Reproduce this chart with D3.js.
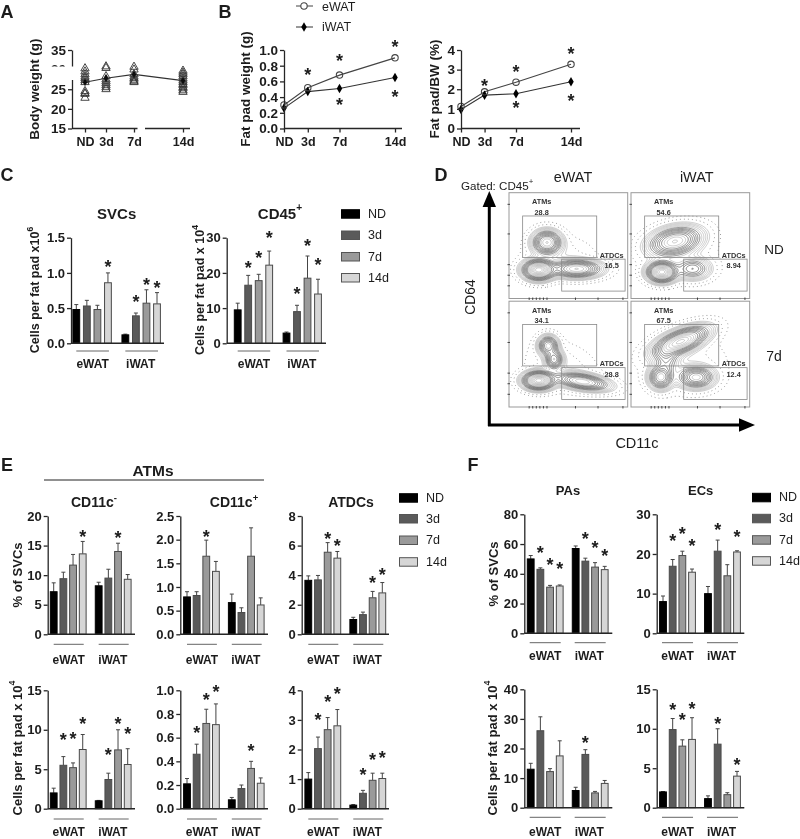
<!DOCTYPE html>
<html><head><meta charset="utf-8">
<script src="https://cdn.jsdelivr.net/npm/d3@7/dist/d3.min.js"></script>
<style>
html,body{margin:0;padding:0;background:#fff}
svg{display:block}
text{font-family:"Liberation Sans",Arial,sans-serif;fill:#1c1c1c}
.b{font-weight:700}
</style></head><body>
<svg id="c" width="800" height="839"></svg>
<script>
// ---------- data ----------
const timeLabels=["ND","3d","7d","14d"];
const days=[0,3,7,14];
const groups=["eWAT","iWAT"];
const barColors=["#000000","#5a5a5a","#9a9a9a","#d6d6d6"];

// A
const bodyMean=[26.8,27.8,28.8,27.2];
const bodyND=[30.3,29.5,28.8,28.2,27.8,27.3,26.8,24.5,24,23.8,22.8];
const body3d=[30.8,30.4,28.3,27.5,27,26.5,26,25.5,25];
const body7d=[30.7,30,28.8,28.2,27.8,27.4,27,26.8];
const body14d=[29.7,29.2,28.8,28.3,27.7,27.2,26.8,26.3,26,25.5,25.2,24.7,24.3];
// B
const padE=[0.3,0.52,0.68,0.9], padI=[0.26,0.47,0.51,0.65];
const padStars=[[3,0.73],[7,0.9],[14,1.08],[7,0.35],[14,0.45]];
const bwE=[1.12,1.87,2.36,3.27], bwI=[0.97,1.7,1.77,2.38];
const bwStars=[[3,2.36],[7,3.04],[14,3.95],[7,1.21],[14,1.6]];
// C
const svcV=[0.48,0.53,0.48,0.86,0.12,0.39,0.57,0.56];
const svcE=[0.55,0.61,0.54,1.0,0.13,0.43,0.76,0.72];
const svcS=[null,null,null,1.13,null,0.64,0.875,0.84];
const cd45V=[9.5,16.5,17.8,22.2,2.9,9,18.5,14];
const cd45E=[11.4,19.3,19.6,26.2,3.2,10.8,24.8,18.2];
const cd45S=[null,22.5,25.1,30.8,null,14.9,28.6,23.2];
// E top
const negPctV=[7.2,9.4,11.7,13.6,8.2,9.5,14,9.3];
const negPctE=[8.7,10.5,13.5,15.7,8.8,11,15.4,10.1];
const negPctS=[null,null,null,17,null,null,16.8,null];
const posPctV=[0.79,0.82,1.65,1.33,0.67,0.46,1.65,0.62];
const posPctE=[0.9,0.9,1.99,1.54,0.85,0.56,2.25,0.77];
const posPctS=[null,null,2.12,null,null,null,null,null];
const dcPctV=[3.65,3.68,5.55,5.15,1.0,1.33,2.47,2.8];
const dcPctE=[3.95,3.98,6.2,5.6,1.15,1.5,2.9,3.5];
const dcPctS=[null,null,6.65,6.24,null,null,3.72,4.23];
// E bottom
const negNumV=[2,5.5,5.2,7.5,1,3.7,7.45,5.6];
const negNumE=[2.6,6.6,5.8,9.4,1.05,4.5,10,7.6];
const negNumS=[null,9.1,9.3,11.2,null,7.2,11.2,9.9];
const posNumV=[0.21,0.46,0.72,0.71,0.075,0.17,0.34,0.215];
const posNumE=[0.255,0.545,0.84,0.885,0.095,0.2,0.4,0.26];
const posNumS=[null,0.67,0.95,1.017,null,null,0.52,null];
const dcNumV=[1,2.03,2.67,2.8,0.12,0.52,0.96,1.02];
const dcNumE=[1.22,2.42,3.08,3.35,0.14,0.62,1.2,1.2];
const dcNumS=[null,3.13,3.73,4.01,null,1.26,1.75,1.84];
// F
const paPctV=[50,43,31,31.8,57,48.5,44.5,42.8];
const paPctE=[52.3,44,32.2,32.5,58.7,50.5,47.5,45];
const paPctS=[null,56.5,48.6,45.5,null,65.6,59.6,54.4];
const ecPctV=[8,16.9,19.6,15.4,10,20.7,14.5,20.5];
const ecPctE=[9.4,18.6,20.7,16.2,11.8,23.5,17.3,20.8];
const ecPctS=[null,24.2,25.8,22.8,null,26.8,null,25.2];
const paNumV=[13,26,12.2,17.5,5.8,18,5,8.2];
const paNumE=[15,30.7,13.2,22.6,6.9,19.6,5.5,9.2];
const paNumS=[null,null,null,null,null,23.1,null,null];
const ecNumV=[2,9.9,7.8,8.65,1.15,8.05,1.65,4];
const ecNumE=[2.05,11.3,8.6,11.4,1.5,10,1.9,4.6];
const ecNumS=[null,12.85,11.5,13,null,11.1,null,5.8];
// D : population peaks on the unit plot [cx, cy, sx, sy, rotation deg, weight]
const flowNDe=[[.32,.47,.065,.06,0,.62],[.25,.73,.07,.05,0,1],[.57,.72,.11,.045,0,.62],[.42,.6,.16,.1,0,.022]];
const flowNDi=[[.37,.46,.12,.07,-15,.62],[.26,.75,.065,.05,0,1],[.52,.72,.08,.055,0,.28],[.42,.6,.16,.12,0,.022]];
const flow7e=[[.33,.42,.045,.05,0,.5],[.38,.55,.04,.05,0,.45],[.25,.75,.07,.045,0,1],[.62,.76,.12,.04,10,.6],[.45,.62,.17,.12,25,.022]];
const flow7i=[[.42,.38,.13,.055,-25,.8],[.25,.72,.055,.06,0,.5],[.55,.72,.08,.055,0,.5],[.3,.55,.06,.08,0,.2],[.45,.6,.19,.15,0,.022]];
const flowPct=[["28.8","16.5"],["54.6","8.94"],["34.1","28.8"],["67.5","12.4"]];

// ---------- helpers ----------
const svg=d3.select("#c");
svg.append("defs").append("filter").attr("id","soft").attr("filterUnits","userSpaceOnUse")
  .attr("x",0).attr("y",0).attr("width",800).attr("height",839)
  .append("feGaussianBlur").attr("stdDeviation",0.35);
svg.append("rect").attr("width",800).attr("height",839).attr("fill","#fff");
const root=svg.append("g").attr("filter","url(#soft)");
const DARK="#262626";

function label(t,x,y,size,opts={}){
  const e=root.append("text").attr("x",x).attr("y",y).attr("font-size",size)
    .attr("text-anchor",opts.anchor||"middle").attr("dominant-baseline","central")
    .classed("b",!!opts.bold);
  if(opts.rot) e.attr("transform",`rotate(${opts.rot} ${x} ${y})`);
  if(opts.sup){
    e.append("tspan").text(t);
    e.append("tspan").text(opts.sup).attr("font-size",size*0.68).attr("dy",-size*0.38).attr("dominant-baseline","auto");
  } else e.text(t);
  return e;
}
function star(g,x,y){
  g.append("text").attr("x",x).attr("y",y+9.5).attr("text-anchor","middle")
    .attr("font-size",18).attr("font-weight",700).text("*");
}
function yAxis(g,x,y,ticks,fmt,size=13){
  const a=g.append("g").attr("transform",`translate(${x},0)`)
    .call(d3.axisLeft(y).tickValues(ticks).tickFormat(d3.format(fmt)).tickSize(4).tickSizeOuter(0).tickPadding(2));
  a.selectAll("path,line").attr("stroke",DARK).attr("stroke-width",1.3);
  a.selectAll("text").attr("font-size",size).attr("font-weight",700).attr("font-family",null).style("fill","#1c1c1c");
}
function legend(x,ys,tx,size){
  timeLabels.forEach((t,i)=>{
    root.append("rect").attr("x",x).attr("y",ys[i]-4).attr("width",18).attr("height",8.5)
      .attr("fill",barColors[i]).attr("stroke",i?"#555":"#000").attr("stroke-width",1);
    label(t,tx,ys[i],size,{anchor:"start"});
  });
}
const slots=[0,1,2,3,4.65,5.65,6.65,7.65];
function bars(cfg){
  const g=root.append("g");
  const y=d3.scaleLinear().domain([0,cfg.max]).range([cfg.bottom,cfg.top]);
  const x=d3.scaleLinear().domain([0,7.65]).range([cfg.first,cfg.last]);
  const w=cfg.w||6.8;
  cfg.V.forEach((v,i)=>{
    const cx=x(slots[i]);
    g.append("line").attr("x1",cx).attr("x2",cx).attr("y1",y(v)).attr("y2",y(cfg.E[i])).attr("stroke","#444").attr("stroke-width",1);
    g.append("line").attr("x1",cx-2).attr("x2",cx+2).attr("y1",y(cfg.E[i])).attr("y2",y(cfg.E[i])).attr("stroke","#444").attr("stroke-width",1);
    g.append("rect").attr("x",cx-w/2).attr("y",y(v)).attr("width",w).attr("height",y(0)-y(v))
      .attr("fill",barColors[i%4]).attr("stroke",i%4?"#4a4a4a":"#000").attr("stroke-width",1);
    if(cfg.S[i]!=null) star(g,cx,y(cfg.S[i]));
  });
  yAxis(g,cfg.axis,y,cfg.ticks,cfg.fmt);
  g.append("line").attr("x1",cfg.axis).attr("x2",cfg.end).attr("y1",y(0)).attr("y2",y(0)).attr("stroke",DARK).attr("stroke-width",1.4);
  [[0,3],[4.65,7.65]].forEach((s,k)=>{
    const a=x(s[0])-(cfg.lx0||0), b=x(s[1])+(cfg.lx1||1);
    g.append("line").attr("x1",a).attr("x2",b).attr("y1",cfg.lineY).attr("y2",cfg.lineY).attr("stroke","#666").attr("stroke-width",1);
    label(groups[k],(a+b)/2-(k?1:0),cfg.labY,12,{bold:true});
  });
}
function lines(cfg){
  const g=root.append("g");
  const y=d3.scaleLinear().domain(cfg.dom).range([128.5,50]);
  const x=d3.scaleLinear().domain([0,14]).range([cfg.x0,cfg.x14]);
  const ln=d3.line().x((d,i)=>x(days[i])).y(d=>y(d));
  g.append("path").attr("d",ln(cfg.e)).attr("fill","none").attr("stroke","#444").attr("stroke-width",1.1);
  g.append("path").attr("d",ln(cfg.i)).attr("fill","none").attr("stroke","#333").attr("stroke-width",1.1);
  cfg.i.forEach((v,k)=>g.append("path").attr("transform",`translate(${x(days[k])},${y(v)})`)
    .attr("d",d3.symbol(d3.symbolDiamond,26)()).attr("fill","#000"));
  cfg.e.forEach((v,k)=>g.append("circle").attr("cx",x(days[k])).attr("cy",y(v)).attr("r",3.2)
    .attr("fill","none").attr("stroke","#444").attr("stroke-width",1.1));
  cfg.stars.forEach(s=>star(g,x(s[0]),y(s[1])));
  yAxis(g,cfg.x0,y,cfg.ticks,cfg.fmt,13.5);
  const xa=g.append("g").attr("transform","translate(0,128.5)")
    .call(d3.axisBottom(x).tickValues(days).tickFormat((d,i)=>timeLabels[i]).tickSize(4).tickSizeOuter(0).tickPadding(5));
  xa.select("path").attr("d",`M${cfg.x0},0H${cfg.end}`);
  xa.selectAll("path,line").attr("stroke",DARK).attr("stroke-width",1.3);
  xa.selectAll("text").attr("font-size",12.5).attr("font-weight",700).attr("font-family",null).style("fill","#1c1c1c");
}

// ---------- panel letters ----------
[["A",7,11.5],["B",225,11.5],["C",7,175],["D",441,175],["E",7,465],["F",473,465]]
  .forEach(d=>label(d[0],d[1],d[2],18,{bold:true}));

// ---------- A ----------
(function(){
  const g=root.append("g");
  const y=d3.scaleLinear().domain([15,35]).range([128.5,50]);
  const x=d3.scaleLinear().domain([0,14]).range([85,183]);
  const ln=d3.line().x((d,i)=>x(days[i])).y(d=>y(d));
  [bodyND,body3d,body7d,body14d].forEach((arr,k)=>arr.forEach(v=>
    g.append("path").attr("transform",`translate(${x(days[k])},${y(v)})`)
     .attr("d",d3.symbol(d3.symbolTriangle,30)()).attr("fill","none").attr("stroke","#333").attr("stroke-width",.9)));
  g.append("path").attr("d",ln(bodyMean)).attr("fill","none").attr("stroke","#333").attr("stroke-width",1.1);
  bodyMean.forEach((v,k)=>g.append("path").attr("transform",`translate(${x(days[k])},${y(v)})`)
    .attr("d",d3.symbol(d3.symbolDiamond,18)()).attr("fill","#111"));
  yAxis(g,72,y,[15,20,25,30,35],"d",13.5);
  const xa=g.append("g").attr("transform","translate(0,128.5)")
    .call(d3.axisBottom(x).tickValues(days).tickFormat((d,i)=>timeLabels[i]).tickSize(4).tickSizeOuter(0).tickPadding(5));
  xa.select("path").attr("d","M72,0H190");
  xa.selectAll("path,line").attr("stroke",DARK).attr("stroke-width",1.3);
  xa.selectAll("text").attr("font-size",12.5).attr("font-weight",700).attr("font-family",null).style("fill","#1c1c1c");
  label("Body weight (g)",34,89,13.5,{bold:true,rot:-90});
  // damage present in the source picture
  root.append("rect").attr("x",50).attr("y",66.5).attr("width",24).attr("height",13.5).attr("fill","#fff");
  root.append("rect").attr("x",137.5).attr("y",125).attr("width",7.5).attr("height",6).attr("fill","#fff");
})();

// ---------- B ----------
root.append("line").attr("x1",296).attr("x2",313).attr("y1",6).attr("y2",6).attr("stroke","#444");
root.append("circle").attr("cx",304).attr("cy",6).attr("r",3.2).attr("fill","#fff").attr("stroke","#444").attr("stroke-width",1.1);
root.append("line").attr("x1",296).attr("x2",313).attr("y1",27).attr("y2",27).attr("stroke","#333");
root.append("path").attr("transform","translate(304,27)").attr("d",d3.symbol(d3.symbolDiamond,26)()).attr("fill","#000");
label("eWAT",322,7,12.5,{anchor:"start"});
label("iWAT",322,27,12.5,{anchor:"start"});
lines({x0:284,x14:395,end:402,dom:[0,1],e:padE,i:padI,stars:padStars,ticks:[0,.2,.4,.6,.8,1],fmt:".1f"});
label("Fat pad weight (g)",245,89,13.5,{bold:true,rot:-90});
lines({x0:461,x14:571,end:580,dom:[0,4],e:bwE,i:bwI,stars:bwStars,ticks:[0,1,2,3,4],fmt:"d"});
label("Fat pad/BW (%)",434,89,13.5,{bold:true,rot:-90});

// ---------- C ----------
bars({V:svcV,E:svcE,S:svcS,max:1.5,top:237.7,bottom:343.3,first:76.3,last:157,axis:71,end:164,ticks:[0,.5,1,1.5],fmt:".1f",lineY:351,labY:364});
bars({V:cd45V,E:cd45E,S:cd45S,max:30,top:237.7,bottom:343.3,first:237.7,last:318,axis:226.7,end:326,ticks:[0,10,20,30],fmt:"d",lineY:351,labY:364});
label("SVCs",116.7,213,15,{bold:true});
label("CD45",280,213,15,{bold:true,sup:"+"});
label("Cells per fat pad x10",35,290,12.5,{bold:true,rot:-90,sup:"6"});
label("Cells per fat pad x 10",200,290,12.5,{bold:true,rot:-90,sup:"4"});
legend(341.5,[213.7,235,256.5,277.5],368,12.5);

// ---------- D ----------
(function(){
  const W=118.7,H=105.8, cols=[509,631], rows=[192.7,301.2];
  const sets=[flowNDe,flowNDi,flow7e,flow7i];
  const gx=150,gy=134;
  const solid=[.03,.042,.056,.075,.1,.13,.165,.2,.24,.29,.34,.4,.47,.54,.62,.7,.78,.86,.94];
  const halo=[.0035,.012];
  sets.forEach((blobs,idx)=>{
    const px=cols[idx%2], py=rows[idx>>1];
    const g=root.append("g").attr("transform",`translate(${px},${py})`);
    const vals=new Float64Array(gx*gy);
    for(let j=0;j<gy;j++)for(let i=0;i<gx;i++){
      const u=(i+.5)/gx,v=(j+.5)/gy; let s=0;
      blobs.forEach(b=>{
        const a=b[4]*Math.PI/180,dx=u-b[0],dy=v-b[1];
        const p=(dx*Math.cos(a)+dy*Math.sin(a))/b[2], q=(-dx*Math.sin(a)+dy*Math.cos(a))/b[3];
        s+=b[5]*Math.exp(-.5*(p*p+q*q));
      });
      vals[j*gx+i]=s;
    }
    const path=d3.geoPath(d3.geoTransform({point(x,y){this.stream.point(x/gx*W,y/gy*H);}}));
    const cs=d3.contours().size([gx,gy]).smooth(true);
    const cid="cp"+idx;
    svg.select("defs").append("clipPath").attr("id",cid).append("rect").attr("width",W).attr("height",H);
    const cg=g.append("g").attr("clip-path",`url(#${cid})`);
    cg.selectAll(".h").data(cs.thresholds(halo)(vals)).join("path").attr("d",path)
      .attr("fill","none").attr("stroke","#666").attr("stroke-width",.8).attr("stroke-dasharray","0.8 3.2");
    const ring=v=>v>=.13&&v<=.4;
    cg.selectAll(".s").data(cs.thresholds(solid)(vals)).join("path").attr("d",path)
      .attr("fill","none").attr("stroke",d=>ring(d.value)?"#666":"#a2a2a2").attr("stroke-width",d=>ring(d.value)?.75:.55);
    // gates and frame
    const sx=d3.scaleLinear().domain([0,1]).range([0,W]), sy=d3.scaleLinear().domain([0,1]).range([0,H]);
    g.append("rect").attr("width",W).attr("height",H).attr("fill","none").attr("stroke","#999").attr("stroke-width",1);
    g.append("rect").attr("x",sx(.115)).attr("y",sy(.22)).attr("width",sx(.624)).attr("height",sy(.392)).attr("fill","none").attr("stroke","#888").attr("stroke-width",.8);
    g.append("rect").attr("x",sx(.444)).attr("y",sy(.628)).attr("width",sx(.534)).attr("height",sy(.302)).attr("fill","none").attr("stroke","#888").attr("stroke-width",.8);
    [.11,.39,.68,.78,.88].forEach(t=>g.append("line").attr("x1",-1.5).attr("x2",1).attr("y1",sy(t)).attr("y2",sy(t)).attr("stroke","#222").attr("stroke-width",.8));
    [.17,.2,.23,.26,.29,.32,.56,.75,.96].forEach(t=>g.append("line").attr("y1",H-1).attr("y2",H+1.5).attr("x1",sx(t)).attr("x2",sx(t)).attr("stroke","#222").attr("stroke-width",.8));
    const t=(s,u,v)=>{g.append("text").attr("x",sx(u)).attr("y",sy(v)).attr("font-size",7.3).attr("font-weight",700)
      .attr("text-anchor","middle").attr("dominant-baseline","central").style("fill","#333").text(s);};
    t("ATMs",.275,.085); t(flowPct[idx][0],.275,.183);
    t("ATDCs",.865,.59); t(flowPct[idx][1],.865,.69);
  });
  // arrows
  root.append("line").attr("x1",489.3).attr("x2",489.3).attr("y1",426).attr("y2",205).attr("stroke","#000").attr("stroke-width",3);
  root.append("path").attr("d","M489.3,191L496,207H482.6Z").attr("fill","#000");
  root.append("line").attr("x1",488).attr("x2",742).attr("y1",425).attr("y2",425).attr("stroke","#000").attr("stroke-width",3);
  root.append("path").attr("d","M755,425L739,418.3V431.7Z").attr("fill","#000");
  label("Gated: CD45",461,185,11.6,{anchor:"start",sup:"+"});
  label("eWAT",573,177,14.4); label("iWAT",696.7,177,14.4);
  label("ND",774,249.7,13.5); label("7d",774,356,14);
  label("CD64",470,297,13.8,{rot:-90}); label("CD11c",637,443,14.5);
})();

// ---------- E ----------
root.append("line").attr("x1",44).attr("x2",264).attr("y1",480).attr("y2",480).attr("stroke","#222").attr("stroke-width",1);
label("ATMs",153,470,15.5,{bold:true});
label("CD11c",94,502,14,{bold:true,sup:"-"});
label("CD11c",234,502,14,{bold:true,sup:"+"});
label("ATDCs",351,502,14,{bold:true});
const eRow1={top:516,bottom:634.3,lineY:644.3,labY:660};
const eRow2={top:690.3,bottom:808.7,lineY:819,labY:832};
const eCols=[{first:53.7,last:127.7,axis:47.7,end:135},{first:187,last:260.7,axis:180.3,end:268},{first:308.3,last:382.3,axis:301.7,end:389}];
bars({...eRow1,...eCols[0],V:negPctV,E:negPctE,S:negPctS,max:20,ticks:[0,5,10,15,20],fmt:"d"});
bars({...eRow1,...eCols[1],V:posPctV,E:posPctE,S:posPctS,max:2.5,ticks:[0,.5,1,1.5,2,2.5],fmt:".1f"});
bars({...eRow1,...eCols[2],V:dcPctV,E:dcPctE,S:dcPctS,max:8,ticks:[0,2,4,6,8],fmt:"d"});
bars({...eRow2,...eCols[0],V:negNumV,E:negNumE,S:negNumS,max:15,ticks:[0,5,10,15],fmt:"d"});
bars({...eRow2,...eCols[1],V:posNumV,E:posNumE,S:posNumS,max:1,ticks:[0,.2,.4,.6,.8,1],fmt:".1f"});
bars({...eRow2,...eCols[2],V:dcNumV,E:dcNumE,S:dcNumS,max:4,ticks:[0,1,2,3,4],fmt:"d"});
label("% of SVCs",17,575,13,{bold:true,rot:-90});
label("Cells per fat pad x 10",17,748,13,{bold:true,rot:-90,sup:"4"});
legend(399.5,[497.7,518.5,540,561.7],426,12.5);

// ---------- F ----------
label("PAs",568,490,13,{bold:true});
label("ECs",700.7,490,13,{bold:true});
const fRow1={top:514.3,bottom:633.3,lineY:642.7,labY:656};
const fRow2={top:689.3,bottom:807.7,lineY:817.3,labY:831.5};
const fCols=[{first:530.7,last:604.7,axis:524.3,end:612.3,lx0:1,lx1:0},{first:663,last:737,axis:656.7,end:744.3,lx0:1,lx1:0}];
bars({...fRow1,...fCols[0],V:paPctV,E:paPctE,S:paPctS,max:80,ticks:[0,20,40,60,80],fmt:"d"});
bars({...fRow1,...fCols[1],V:ecPctV,E:ecPctE,S:ecPctS,max:30,ticks:[0,10,20,30],fmt:"d"});
bars({...fRow2,...fCols[0],V:paNumV,E:paNumE,S:paNumS,max:40,ticks:[0,10,20,30,40],fmt:"d"});
bars({...fRow2,...fCols[1],V:ecNumV,E:ecNumE,S:ecNumS,max:15,ticks:[0,5,10,15],fmt:"d"});
label("% of SVCs",493,574,13,{bold:true,rot:-90});
label("Cells per fat pad x 10",492,748,13,{bold:true,rot:-90,sup:"4"});
legend(752.5,[497.3,518.3,539.7,560.7],779,12.5);
</script>
</body></html>
